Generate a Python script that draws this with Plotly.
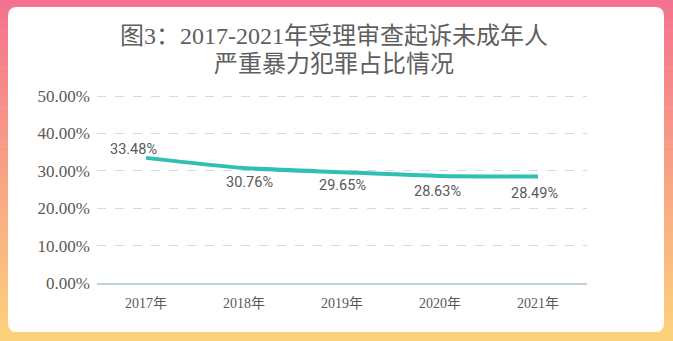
import plotly.graph_objects as go

categories = ["2017年", "2018年", "2019年", "2020年", "2021年"]
values = [0.3348, 0.3076, 0.2965, 0.2863, 0.2849]
labels = ["33.48%", "30.76%", "29.65%", "28.63%", "28.49%"]
tick_vals = [0, 0.1, 0.2, 0.3, 0.4, 0.5]
tick_text = ["0.00%", "10.00%", "20.00%", "30.00%", "40.00%", "50.00%"]
title_lines = ["图3：2017-2021年受理审查起诉未成年人", "严重暴力犯罪占比情况"]

W, H = 673, 341
L, R, T, B = 97, 587, 95, 283
pw, ph = R - L, B - T

def px(x):
    return (x - L) / pw

def py(y):
    return (B - y) / ph

top_c = (244, 114, 143)
bot_c = (252, 210, 122)

shapes = []
n = 70
for i in range(n):
    f = i / (n - 1)
    c = tuple(round(top_c[k] + (bot_c[k] - top_c[k]) * f) for k in range(3))
    y0 = H * i / n
    y1 = H * (i + 1) / n + 0.6
    shapes.append(dict(type="rect", xref="paper", yref="paper",
                       x0=px(-2), x1=px(W + 2), y0=py(y1), y1=py(y0),
                       fillcolor="rgb(%d,%d,%d)" % c, line=dict(width=0), layer="below"))

# white rounded panel (pixel coords relative to plot origin)
x0p, x1p, y0p, y1p, r = 8, 664, 7, 332, 9
def P(x, y):
    return "%.1f,%.1f" % (x - L, B - y)
path = ("M " + P(x0p + r, y0p) + " L " + P(x1p - r, y0p) +
        " Q " + P(x1p, y0p) + " " + P(x1p, y0p + r) +
        " L " + P(x1p, y1p - r) + " Q " + P(x1p, y1p) + " " + P(x1p - r, y1p) +
        " L " + P(x0p + r, y1p) + " Q " + P(x0p, y1p) + " " + P(x0p, y1p - r) +
        " L " + P(x0p, y0p + r) + " Q " + P(x0p, y0p) + " " + P(x0p + r, y0p) + " Z")
shapes.append(dict(type="path", xref="paper", yref="paper", xsizemode="pixel",
                   ysizemode="pixel", xanchor=0, yanchor=0, path=path,
                   fillcolor="white", line=dict(width=0), layer="below"))

fig = go.Figure()
fig.add_trace(go.Scatter(x=categories, y=values, mode="lines",
                         line=dict(color="#2FBFB4", width=4, shape="spline", smoothing=0.6),
                         hoverinfo="skip"))

label_font = dict(family="Roboto, 'Noto Sans', sans-serif", size=14.5, color="#595959")
shifts = [(-13, 8), (5, -14), (0, -13), (-3, -16), (-4, -17)]
annotations = []
for i, (c, v, t) in enumerate(zip(categories, values, labels)):
    dx, dy = shifts[i]
    annotations.append(dict(x=c, y=v, text=t, showarrow=False, xshift=dx, yshift=dy,
                            font=label_font))

title_font = dict(family="'Liberation Serif', 'Noto Sans CJK SC', serif", size=24, color="#5f5f5f")
for t, ycen in zip(title_lines, [36, 64]):
    annotations.append(dict(text=t, xref="paper", yref="paper", x=px(334), y=py(ycen),
                            xanchor="center", yanchor="middle", showarrow=False,
                            font=title_font))

fig.update_layout(
    width=W, height=H,
    margin=dict(l=L, r=W - R, t=T, b=H - B, pad=0),
    paper_bgcolor="rgba(0,0,0,0)", plot_bgcolor="rgba(0,0,0,0)",
    showlegend=False,
    shapes=shapes,
    annotations=annotations,
    xaxis=dict(type="category", range=[-0.5, 4.5], showgrid=False, showline=True,
               linecolor="#BFD0DA", linewidth=1.5, ticks="", zeroline=False,
               ticklabelstandoff=6,
               tickfont=dict(family="'Liberation Serif', 'Noto Sans CJK SC', serif", size=14, color="#595959")),
    yaxis=dict(range=[0, 0.503], tickvals=tick_vals, ticktext=tick_text, showgrid=True,
               gridcolor="#C9DFE7", griddash="dash", gridwidth=1, zeroline=False,
               showline=False, ticks="", ticklabelstandoff=6,
               tickfont=dict(family="'Liberation Serif', serif", size=17, color="#595959")),
)

fig.write_html("out.html")
